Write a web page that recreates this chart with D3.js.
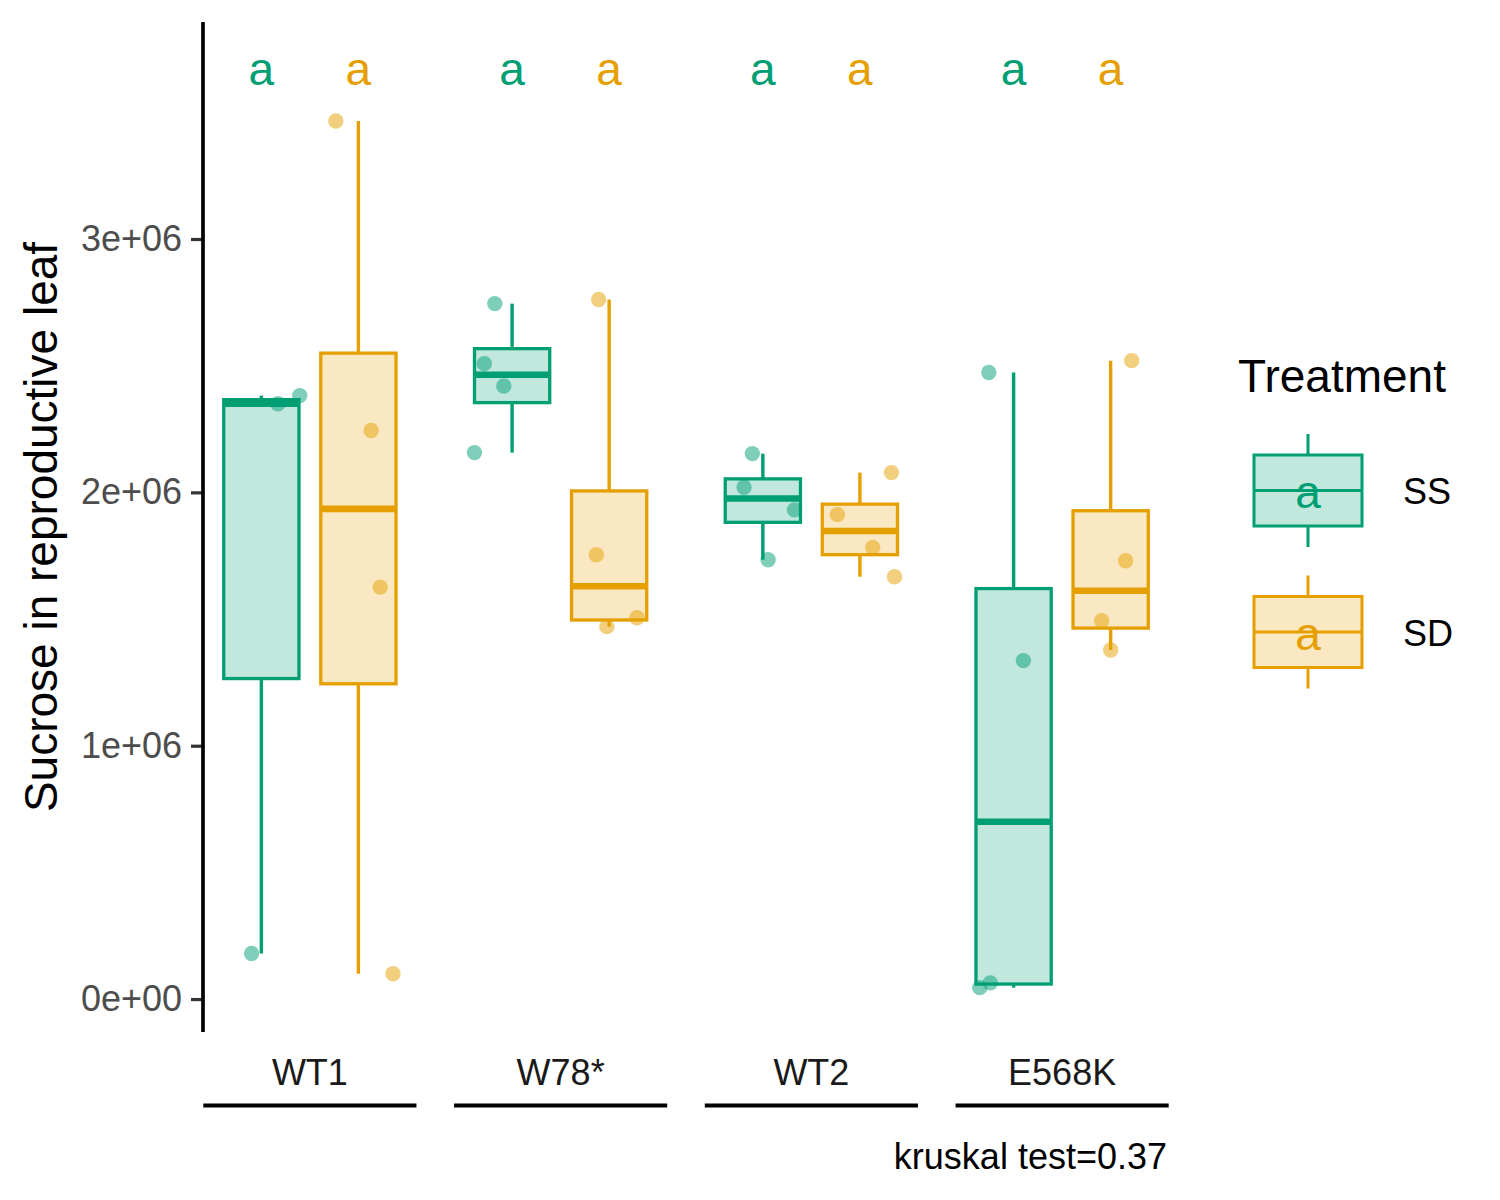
<!DOCTYPE html>
<html>
<head>
<meta charset="utf-8">
<script src="https://cdn.jsdelivr.net/npm/d3@7"></script>
<style>
  html, body { margin: 0; padding: 0; background: #fff; }
  svg { display: block; font-family: "Liberation Sans", Arial, sans-serif; }
</style>
</head>
<body>
<svg id="chart" width="1500" height="1200"></svg>
<script>
// ---------------- data ----------------
const genotypes = ["WT1", "W78*", "WT2", "E568K"];
const treatments = ["SS", "SD"];
const treatmentColors = ["#009E73", "#E69F00"];

// sucrose values per genotype
const ssValues = [
  [180000, 2350000, 2382000],
  [2745000, 2508000, 2420000, 2157000],
  [2153000, 2020000, 1931000, 1734000],
  [2473000, 1336000, 64000, 45000]
];
const sdValues = [
  [3466000, 2244000, 1626000, 100000],
  [2761000, 1754000, 1505000, 1470000],
  [2078000, 1912000, 1783000, 1667000],
  [2520000, 1730000, 1493000, 1378000]
];
// horizontal jitter of each point, as a fraction of box width
const ssJitter = [
  [-0.13, 0.22, 0.51],
  [-0.23, -0.37, -0.11, -0.50],
  [-0.14, -0.25, 0.42, 0.07],
  [-0.33, 0.13, -0.31, -0.45]
];
const sdJitter = [
  [-0.30, 0.17, 0.29, 0.46],
  [-0.14, -0.17, 0.37, -0.03],
  [0.42, -0.30, 0.17, 0.46],
  [0.28, 0.20, -0.12, 0.00]
];
const ssLetters = ["a", "a", "a", "a"];
const sdLetters = ["a", "a", "a", "a"];
const yTicks = [0, 1000000, 2000000, 3000000];
const yTickLabels = ["0e+00", "1e+06", "2e+06", "3e+06"];
const yDomain = [-130000, 3856600];
const yTitle = "Sucrose in reproductive leaf";
const legendTitle = "Treatment";
const testLabel = "kruskal test=0.37";

// ---------------- layout ----------------
const svg = d3.select("#chart");
const panel = { left: 203, right: 1188, top: 22, bottom: 1032 };

const x = d3.scaleBand().domain(genotypes).range([184.5, 1187.5]).padding(0);
const bw = x.bandwidth();
const sub = d3.scalePoint().domain(treatments).range([-0.1935 * bw, 0.1935 * bw]);
const boxW = 0.3 * bw;
const y = d3.scaleLinear().domain(yDomain).range([panel.bottom, panel.top]);

const valuesByT = { SS: ssValues, SD: sdValues };
const jitterByT = { SS: ssJitter, SD: sdJitter };
const lettersByT = { SS: ssLetters, SD: sdLetters };
const color = d3.scaleOrdinal().domain(treatments).range(treatmentColors);

function stats(vals) {
  const s = vals.slice().sort(d3.ascending);
  const q1 = d3.quantileSorted(s, 0.25), med = d3.quantileSorted(s, 0.5), q3 = d3.quantileSorted(s, 0.75);
  const iqr = q3 - q1;
  const lo = d3.min(s.filter(v => v >= q1 - 1.5 * iqr));
  const hi = d3.max(s.filter(v => v <= q3 + 1.5 * iqr));
  return { q1, med, q3, lo, hi };
}

const groups = [];
genotypes.forEach((g, gi) => {
  treatments.forEach(t => {
    groups.push({ g, t, vals: valuesByT[t][gi], jit: jitterByT[t][gi], letter: lettersByT[t][gi],
                  cx: x(g) + bw / 2 + sub(t), st: stats(valuesByT[t][gi]) });
  });
});

// ---------------- boxes ----------------
const gBox = svg.append("g");
groups.forEach(d => {
  const c = color(d.t);
  const gg = gBox.append("g");
  gg.append("line").attr("x1", d.cx).attr("x2", d.cx)
    .attr("y1", y(d.st.hi)).attr("y2", y(d.st.q3))
    .attr("stroke", c).attr("stroke-width", 3.4);
  gg.append("line").attr("x1", d.cx).attr("x2", d.cx)
    .attr("y1", y(d.st.q1)).attr("y2", y(d.st.lo))
    .attr("stroke", c).attr("stroke-width", 3.4);
  gg.append("rect").attr("x", d.cx - boxW / 2).attr("width", boxW)
    .attr("y", y(d.st.q3)).attr("height", y(d.st.q1) - y(d.st.q3))
    .attr("fill", c).attr("fill-opacity", 0.24)
    .attr("stroke", c).attr("stroke-width", 3.3);
  gg.append("line").attr("x1", d.cx - boxW / 2).attr("x2", d.cx + boxW / 2)
    .attr("y1", y(d.st.med)).attr("y2", y(d.st.med))
    .attr("stroke", c).attr("stroke-width", 6.6);
});

// ---------------- points ----------------
const gPts = svg.append("g");
groups.forEach(d => {
  gPts.selectAll(null).data(d.vals.map((v, i) => ({ v, j: d.jit[i] }))).enter()
    .append("circle")
    .attr("cx", p => d.cx + p.j * boxW)
    .attr("cy", p => y(p.v))
    .attr("r", 7.7)
    .attr("fill", color(d.t)).attr("fill-opacity", 0.5);
});

// ---------------- letters ----------------
svg.append("g").selectAll("text").data(groups).enter().append("text")
  .attr("x", d => d.cx).attr("y", panel.top + 63)
  .attr("text-anchor", "middle").attr("font-size", 46)
  .attr("fill", d => color(d.t)).text(d => d.letter);

// ---------------- y axis ----------------
const yAxis = svg.append("g").attr("transform", `translate(${panel.left},0)`)
  .call(d3.axisLeft(y).tickValues(yTicks).tickFormat((d, i) => yTickLabels[i]).tickSize(12).tickPadding(9));
yAxis.select(".domain").remove();
yAxis.selectAll(".tick line").attr("stroke", "#333333").attr("stroke-width", 3.2);
yAxis.selectAll(".tick text").attr("font-size", 36).attr("fill", "#4D4D4D")
  .attr("font-family", "'Liberation Sans', Arial, sans-serif");
svg.append("line").attr("x1", panel.left).attr("x2", panel.left)
  .attr("y1", panel.top).attr("y2", panel.bottom)
  .attr("stroke", "#000").attr("stroke-width", 3.7);

svg.append("text")
  .attr("transform", `translate(57,${(panel.top + panel.bottom) / 2}) rotate(-90)`)
  .attr("text-anchor", "middle").attr("font-size", 46).attr("fill", "#000")
  .text(yTitle);

// ---------------- x labels + brackets ----------------
const gx = svg.append("g");
genotypes.forEach(g => {
  const c = x(g) + bw / 2;
  gx.append("text").attr("x", c).attr("y", 1085).attr("text-anchor", "middle")
    .attr("font-size", 36).attr("fill", "#1A1A1A").text(g);
  gx.append("line").attr("x1", c - 0.425 * bw).attr("x2", c + 0.425 * bw)
    .attr("y1", 1105.5).attr("y2", 1105.5)
    .attr("stroke", "#000").attr("stroke-width", 4);
});

svg.append("text").attr("x", 1167).attr("y", 1169).attr("text-anchor", "end")
  .attr("font-size", 36).attr("fill", "#000").text(testLabel);

// ---------------- legend ----------------
const leg = svg.append("g");
leg.append("text").attr("x", 1238).attr("y", 392).attr("font-size", 46).attr("fill", "#000").text(legendTitle);
const legKey = d3.scalePoint().domain(treatments).range([490.5, 632]);
treatments.forEach(t => {
  const cy = legKey(t), c = color(t), kx = 1308, kw = 108, kh = 71;
  leg.append("line").attr("x1", kx).attr("x2", kx).attr("y1", cy - kh / 2 - 21).attr("y2", cy - kh / 2)
    .attr("stroke", c).attr("stroke-width", 3);
  leg.append("line").attr("x1", kx).attr("x2", kx).attr("y1", cy + kh / 2).attr("y2", cy + kh / 2 + 21)
    .attr("stroke", c).attr("stroke-width", 3);
  leg.append("rect").attr("x", kx - kw / 2).attr("y", cy - kh / 2).attr("width", kw).attr("height", kh)
    .attr("fill", c).attr("fill-opacity", 0.24).attr("stroke", c).attr("stroke-width", 3);
  leg.append("line").attr("x1", kx - kw / 2).attr("x2", kx + kw / 2).attr("y1", cy).attr("y2", cy)
    .attr("stroke", c).attr("stroke-width", 3);
  leg.append("text").attr("x", kx).attr("y", cy + 17.5).attr("text-anchor", "middle")
    .attr("font-size", 46).attr("fill", c).text("a");
  leg.append("text").attr("x", 1403).attr("y", cy + 13.5).attr("font-size", 36).attr("fill", "#000").text(t);
});
</script>
</body>
</html>
